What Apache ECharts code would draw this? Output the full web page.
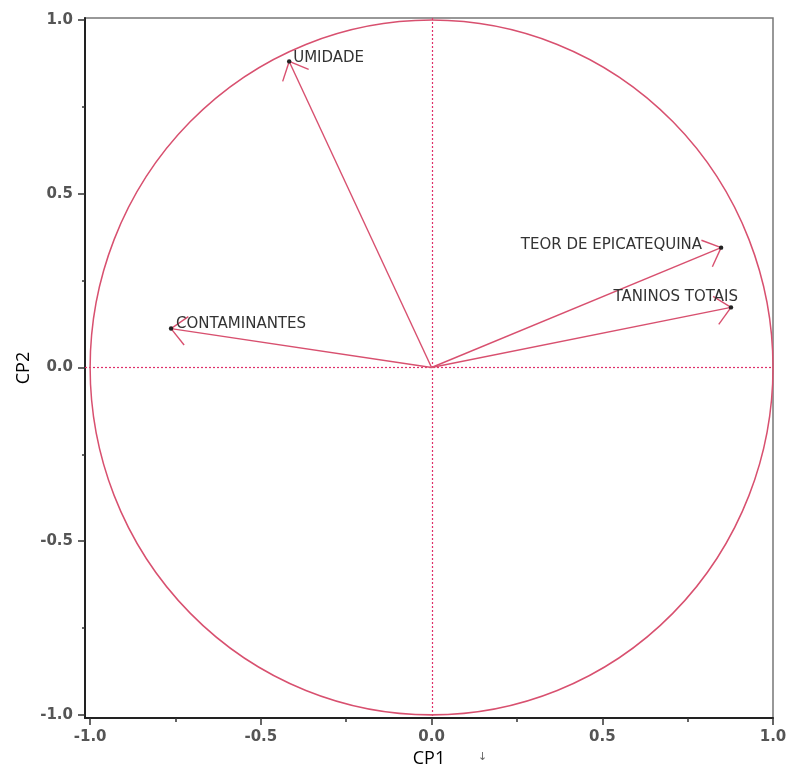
<!DOCTYPE html>
<html><head><meta charset="utf-8">
<script src="https://cdn.jsdelivr.net/npm/echarts@6/dist/echarts.min.js"></script>
<style>html,body{margin:0;padding:0;background:#fff}#c{width:788px;height:771px}</style>
</head><body><div id="c"></div>
<script>
// ---- data ----
const variables = ['UMIDADE', 'CONTAMINANTES', 'TEOR DE EPICATEQUINA', 'TANINOS TOTAIS'];
const cp1 = [-0.417, -0.763, 0.848, 0.877];
const cp2 = [0.881, 0.112, 0.345, 0.173];
const majorTicks = [-1, -0.5, 0, 0.5, 1];
const minorTicks = [-0.75, -0.25, 0.25, 0.75];
const xTitle = 'CP1';
const yTitle = 'CP2';

// ---- label placement (styling, not data) ----
const labelPlacement = [
  { align: 'left', dx: 4, dy: -3 },
  { align: 'left', dx: 5, dy: -4 },
  { align: 'right', dx: -19, dy: -3 },
  { align: 'right', dx: 7, dy: -10 }
];
const RED = '#d8506f';

const chart = echarts.init(document.getElementById('c'), null, { renderer: 'canvas' });

const labelStyle = { fontSize: 15, fontWeight: 'bold', color: '#555', fontFamily: 'DejaVu Sans' };

const option = {
  animation: false,
  backgroundColor: '#fff',
  grid: { left: 85, right: 15, top: 18, bottom: 53, show: true, borderColor: '#777', borderWidth: 1.5, outerBoundsMode: 'none' },
  xAxis: [
    {
      type: 'value', min: -1.015, max: 1, position: 'bottom',
      name: xTitle, nameLocation: 'middle', nameGap: 32, nameMoveOverlap: false,
      nameTextStyle: { fontSize: 18, color: '#000', fontFamily: 'Open Sans' },
      axisLine: { show: true, onZero: false, lineStyle: { color: '#222', width: 2 } },
      axisTick: { show: true, customValues: majorTicks, length: 7, lineStyle: { color: '#333', width: 1.5 } },
      axisLabel: Object.assign({ customValues: majorTicks, margin: 12, formatter: v => v.toFixed(1) }, labelStyle),
      splitLine: { show: false }
    },
    {
      type: 'value', min: -1.015, max: 1, position: 'bottom', gridIndex: 0,
      axisLine: { show: false, onZero: false },
      axisTick: { show: true, customValues: minorTicks, length: 4, lineStyle: { color: '#333', width: 1.5 } },
      axisLabel: { show: true, customValues: minorTicks, formatter: () => '' },
      splitLine: { show: false }
    }
  ],
  yAxis: [
    {
      type: 'value', min: -1.009, max: 1.006, position: 'left',
      name: yTitle, nameLocation: 'middle', nameGap: 52, nameRotate: 90, nameMoveOverlap: false,
      nameTextStyle: { fontSize: 18, color: '#000', fontFamily: 'Open Sans' },
      axisLine: { show: true, onZero: false, lineStyle: { color: '#222', width: 2 } },
      axisTick: { show: true, customValues: majorTicks, length: 7, lineStyle: { color: '#333', width: 1.5 } },
      axisLabel: Object.assign({ customValues: majorTicks, margin: 12, formatter: v => v.toFixed(1) }, labelStyle),
      splitLine: { show: false }
    },
    {
      type: 'value', min: -1.009, max: 1.006, position: 'left', gridIndex: 0,
      axisLine: { show: false, onZero: false },
      axisTick: { show: true, customValues: minorTicks, length: 3, lineStyle: { color: '#333', width: 1.5 } },
      axisLabel: { show: true, customValues: minorTicks, formatter: () => '' },
      splitLine: { show: false }
    }
  ],
  series: [
    {
      // correlation circle (radius 1 in data units) + dotted zero lines
      type: 'custom',
      xAxisIndex: 0, yAxisIndex: 0,
      silent: true,
      data: [[0, 0]],
      renderItem: function (params, api) {
        const cs = params.coordSys;
        const c = api.coord([0, 0]);
        const px = api.coord([1, 0]);
        const py = api.coord([0, 1]);
        const rx = px[0] - c[0];
        const ry = c[1] - py[1];
        const vx = Math.round(c[0]) + 0.5;
        const hy = Math.round(c[1]) + 0.5;
        const dot = { stroke: '#e0306a', lineWidth: 1.2, lineDash: [2, 2] };
        return {
          type: 'group',
          children: [
            { type: 'line', shape: { x1: vx, y1: cs.y, x2: vx, y2: cs.y + cs.height }, style: dot },
            { type: 'line', shape: { x1: cs.x, y1: hy, x2: cs.x + cs.width, y2: hy }, style: dot },
            {
              type: 'circle',
              x: c[0], y: c[1], scaleY: ry / rx,
              shape: { cx: 0, cy: 0, r: rx },
              style: { fill: 'none', stroke: RED, lineWidth: 1.5, strokeNoScale: true }
            }
          ]
        };
      }
    },
    {
      type: 'custom',
      xAxisIndex: 0, yAxisIndex: 0,
      silent: true,
      data: variables.map((n, i) => [cp1[i], cp2[i], i]),
      renderItem: function (params, api) {
        const i = api.value(2);
        const p0 = api.coord([0, 0]);
        const p1 = api.coord([api.value(0), api.value(1)]);
        const ang = Math.atan2(p0[1] - p1[1], p0[0] - p1[0]);
        const L = 21, h = 0.75;
        const a1 = [p1[0] + L * Math.cos(ang + h), p1[1] + L * Math.sin(ang + h)];
        const a2 = [p1[0] + L * Math.cos(ang - h), p1[1] + L * Math.sin(ang - h)];
        const lp = labelPlacement[i];
        const ls = { stroke: RED, lineWidth: 1.4 };
        return {
          type: 'group',
          children: [
            { type: 'line', shape: { x1: p0[0], y1: p0[1], x2: p1[0], y2: p1[1] }, style: ls },
            { type: 'line', shape: { x1: p1[0], y1: p1[1], x2: a1[0], y2: a1[1] }, style: ls },
            { type: 'line', shape: { x1: p1[0], y1: p1[1], x2: a2[0], y2: a2[1] }, style: ls },
            { type: 'circle', shape: { cx: p1[0], cy: p1[1], r: 2.2 }, style: { fill: '#222' } },
            {
              type: 'text', x: p1[0] + lp.dx, y: p1[1] + lp.dy,
              style: {
                text: variables[i], fill: '#333', fontSize: 15, fontFamily: 'DejaVu Sans',
                align: lp.align, verticalAlign: 'middle'
              }
            }
          ]
        };
      }
    }
  ],
  graphic: [
    { type: 'text', left: 478, top: 752, style: { text: '↓', fontSize: 11, fill: '#666', fontFamily: 'DejaVu Sans' } }
  ]
};
chart.setOption(option);
</script>
</body></html>
